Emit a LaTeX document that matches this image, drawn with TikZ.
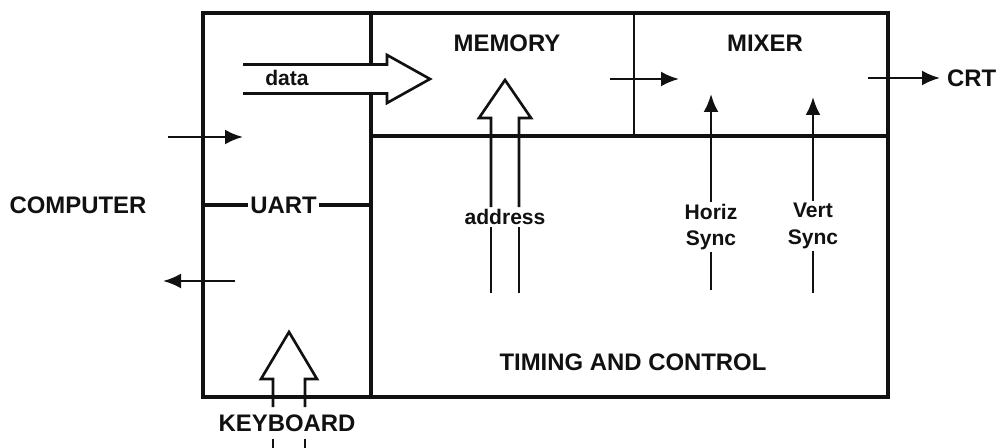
\documentclass[tikz,border=0pt]{standalone}
\usepackage{fontspec}
\setmainfont{Liberation Sans}
\usetikzlibrary{arrows.meta,calc,positioning}
\definecolor{Ink}{HTML}{111111}
\definecolor{Paper}{HTML}{FFFFFF}

\begin{document}
\begin{tikzpicture}[every node/.style={font=\bfseries\fontsize{13.6}{15}\selectfont,text=Ink,inner sep=1pt},small/.style={font=\bfseries\fontsize{12}{15}\selectfont,align=center},frame/.style={line width=2.6pt,draw=Ink},wall/.style={line width=2pt,draw=Ink},arrow/.style={-{Latex[length=3.6mm,width=3mm]},line width=1.5pt,draw=Ink},fat/.style={line width=1.5pt,draw=Ink,line join=miter}]
\useasboundingbox[fill=Paper] (0,0) rectangle (19.98,-8.96);

\draw[frame] (4.06,-0.26) rectangle (17.76,-7.94);
\draw[wall] (7.42,-0.26)--(7.42,-7.94); \draw[wall] (7.42,-2.72)--(17.76,-2.72); \draw[wall,line width=1.6pt] (12.68,-0.26)--(12.68,-2.72);
\fill[Paper] (4.86,-1.29)--(7.74,-1.29)--(7.74,-1.1)--(8.6,-1.58)--(7.74,-2.06)--(7.74,-1.87)--(4.86,-1.87)--cycle;
\draw[fat] (4.86,-1.29)--(7.74,-1.29)--(7.74,-1.1)--(8.6,-1.58)--(7.74,-2.06)--(7.74,-1.87)--(4.86,-1.87);

\node (computer) at (1.56,-4.1) {COMPUTER}; \node (uart) at (5.67,-4.1) {UART};
\node (memory) at (10.14,-0.86) {MEMORY}; \node (mixer) at (15.3,-0.86) {MIXER};
\node (timing) at (12.66,-7.24) {TIMING AND CONTROL}; \node[anchor=west] (crt) at (18.9,-1.56) {CRT};
\node[inner ysep=4pt] (keyboard) at (5.74,-8.46) {KEYBOARD};
\node[small] (data) at (5.74,-1.56) {data}; \node[small] (address) at (10.1,-4.34) {address};
\node[small] (hsync) at (14.22,-4.54) {Horiz\\Sync}; \node[small] (vsync) at (16.26,-4.52) {Vert\\Sync};

\draw[wall] (uart.west-|4.06,0)--(uart.west); \draw[wall] (uart.east)--(uart.east-|7.42,0);

\draw[fat] (9.82,0|-address.north)--(9.82,-2.36)--(9.58,-2.36)--(10.1,-1.6)--(10.62,-2.36)--(10.38,-2.36)--(10.38,0|-address.north);
\draw[fat] (9.82,0|-address.south)--(9.82,-5.86); \draw[fat] (10.38,0|-address.south)--(10.38,-5.86);
\draw[fat] (5.46,0|-keyboard.north)--(5.46,-7.58)--(5.22,-7.58)--(5.78,-6.64)--(6.34,-7.58)--(6.1,-7.58)--(6.1,0|-keyboard.north);
\draw[fat] (5.46,0|-keyboard.south)--(5.46,-8.96); \draw[fat] (6.1,0|-keyboard.south)--(6.1,-8.96);

\coordinate (rxin) at (3.36,-2.74); \coordinate (rx) at (4.86,-2.74);
\coordinate (tx) at (4.7,-5.62); \coordinate (txout) at (3.26,-5.62);
\coordinate (video) at (12.2,-1.58); \coordinate (mixin) at (13.58,-1.58);
\coordinate (mixout) at (17.36,-1.56);
\draw[arrow] (rxin)--(rx); \draw[arrow] (tx)--(txout); \draw[arrow] (video)--(mixin);
\draw[arrow,shorten >=1mm] (mixout)--(crt.west);
\draw[arrow] (hsync.north)--(14.22,-1.88); \draw[fat] (hsync.south)--(14.22,-5.8);
\draw[arrow] (vsync.north)--(16.26,-1.94); \draw[fat] (vsync.south)--(16.26,-5.86);

\end{tikzpicture}
\end{document}
